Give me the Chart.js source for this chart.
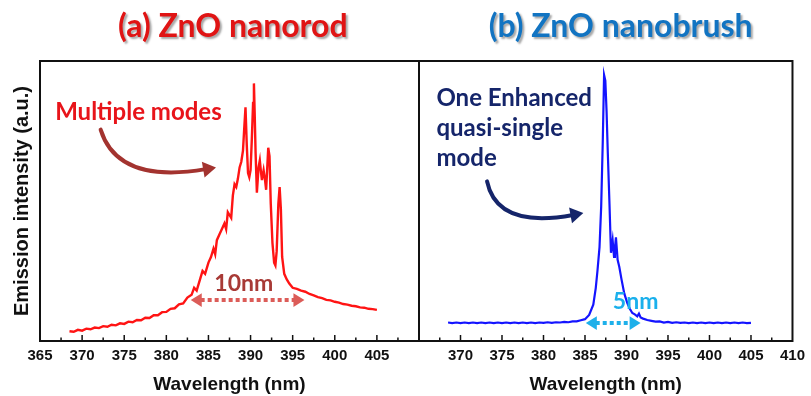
<!DOCTYPE html>
<html><head><meta charset="utf-8">
<script src="https://cdn.jsdelivr.net/npm/chart.js@4.4.0/dist/chart.umd.min.js"></script>
<style>
html,body{margin:0;padding:0;background:#fff;}
#wrap{position:relative;width:811px;height:396px;overflow:hidden;}
canvas{position:absolute;left:0;top:0;}
</style></head><body>
<div id="wrap"><canvas id="ca" width="811" height="396"></canvas><canvas id="cb" width="811" height="396"></canvas></div>
<script>
// ---------- data ----------
const wavelengthTicks = [365,370,375,380,385,390,395,400,405,410];

const redWavelength = [368.5,369.0,369.5,370.0,370.5,371.0,371.5,372.0,372.5,373.0,373.5,374.0,374.5,375.0,375.5,376.0,376.5,377.0,377.5,378.0,378.5,379.0,379.5,380.0,380.5,381.0,381.5,382.0,382.5,383.0,383.3,383.6,384.0,384.3,384.6,385.0,385.3,385.6,385.8,386.0,386.3,386.6,386.9,387.1,387.3,387.5,387.7,387.9,388.1,388.3,388.5,388.7,388.9,389.1,389.25,389.4,389.55,389.7,389.85,390.0,390.15,390.3,390.4,390.5,390.6,390.75,390.95,391.1,391.25,391.35,391.55,391.7,391.85,392.0,392.1,392.25,392.4,392.6,392.8,392.95,393.1,393.3,393.45,393.6,393.75,394.0,394.3,394.6,395.0,395.5,396.0,396.5,397.0,397.5,398.0,398.5,399.0,399.5,400.0,400.5,401.0,401.5,402.0,402.5,403.0,403.5,404.0,404.5,405.0];
const redIntensity = [0.035,0.033,0.040,0.037,0.044,0.042,0.048,0.046,0.053,0.051,0.058,0.056,0.063,0.061,0.069,0.067,0.075,0.074,0.083,0.082,0.092,0.092,0.103,0.104,0.115,0.117,0.131,0.134,0.155,0.165,0.19,0.18,0.22,0.25,0.24,0.28,0.30,0.33,0.31,0.36,0.38,0.40,0.42,0.40,0.46,0.45,0.44,0.52,0.56,0.55,0.58,0.62,0.64,0.68,0.76,0.835,0.70,0.60,0.585,0.61,0.72,0.85,0.92,0.80,0.67,0.53,0.62,0.645,0.60,0.575,0.61,0.58,0.54,0.63,0.69,0.66,0.49,0.35,0.28,0.27,0.32,0.49,0.55,0.47,0.30,0.24,0.22,0.205,0.19,0.186,0.180,0.176,0.168,0.163,0.157,0.153,0.147,0.145,0.140,0.137,0.132,0.130,0.126,0.124,0.120,0.119,0.115,0.114,0.111];

const blueWavelength = [368.5,369.0,369.5,370.0,370.5,371.0,371.5,372.0,372.5,373.0,373.5,374.0,374.5,375.0,375.5,376.0,376.5,377.0,377.5,378.0,378.5,379.0,379.5,380.0,380.5,381.0,381.5,382.0,382.5,383.0,383.5,384.0,384.5,385.0,385.5,386.0,386.3,386.5,386.75,386.95,387.14,387.3,387.45,387.6,387.75,387.95,388.13,388.33,388.5,388.6,388.73,388.93,389.13,389.4,389.73,390.1,390.4,390.7,391.0,391.3,391.5,391.7,392.0,392.5,393.0,393.5,394.0,394.5,395.0,395.5,396.0,396.5,397.0,397.5,398.0,398.5,399.0,399.5,400.0,400.5,401.0,401.5,402.0,402.5,403.0,403.5,404.0,404.5,405.0];
const blueIntensity = [0.066,0.064,0.066,0.064,0.066,0.064,0.066,0.064,0.066,0.064,0.066,0.064,0.066,0.064,0.066,0.064,0.066,0.064,0.066,0.064,0.066,0.064,0.066,0.065,0.067,0.065,0.067,0.066,0.068,0.067,0.070,0.070,0.074,0.078,0.093,0.13,0.19,0.25,0.335,0.48,0.71,0.95,0.93,0.82,0.67,0.49,0.315,0.36,0.30,0.33,0.37,0.29,0.265,0.22,0.17,0.135,0.115,0.10,0.095,0.088,0.098,0.084,0.080,0.075,0.072,0.069,0.070,0.066,0.068,0.065,0.067,0.065,0.066,0.064,0.066,0.064,0.066,0.064,0.066,0.064,0.066,0.064,0.066,0.064,0.066,0.064,0.066,0.064,0.065];

// ---------- annotations (data coordinates) ----------
const annA = {
  texts: [
    {t:'(a) ZnO nanorod', x:387.9, y:1.121, c:'#e01414', f:'bold 32px Lato', a:'center', shadow:true},
    {t:'Multiple modes', x:366.8, y:0.818, c:'#e8141a', f:'bold 24px Lato', a:'left'},
    {t:'10nm', x:389.2, y:0.205, c:'#a83a36', f:'bold 23px Lato', a:'center'}
  ],
  curves: [{pts:[[372.2,0.755],[374.2,0.56],[385.9,0.62]], c:'#a3332f', w:4, head:13}],
  dotted: [{x1:382.9, x2:396.4, y:0.146, c:'#dc5c58', w:4, head:11}]
};
const annB = {
  texts: [
    {t:'(b) ZnO nanobrush', x:389.3, y:1.121, c:'#1274c2', f:'bold 32px Lato', a:'center', shadow:true},
    {t:'One Enhanced', x:367.1, y:0.868, c:'#15256a', f:'bold 24px Lato', a:'left'},
    {t:'quasi-single', x:367.1, y:0.76, c:'#15256a', f:'bold 24px Lato', a:'left'},
    {t:'mode', x:367.1, y:0.654, c:'#15256a', f:'bold 24px Lato', a:'left'},
    {t:'5nm', x:391.1, y:0.14, c:'#1ab0ec', f:'bold 23px Lato', a:'center'}
  ],
  curves: [{pts:[[373.2,0.57],[374.4,0.40],[384.8,0.457]], c:'#15256a', w:4, head:13}],
  dotted: [{x1:385.1, x2:391.7, y:0.064, c:'#1eb0ea', w:4, head:11}]
};

// ---------- drawing helpers ----------
function head(ctx, x, y, ang, s, color){
  ctx.save(); ctx.translate(x,y); ctx.rotate(ang);
  ctx.beginPath(); ctx.moveTo(0,0); ctx.lineTo(-s,-s*0.62); ctx.lineTo(-s,s*0.62); ctx.closePath();
  ctx.fillStyle=color; ctx.fill(); ctx.restore();
}
const decor = {
  id:'decor',
  afterDraw(chart, args, o){
    const {ctx, chartArea:a, scales:{x,y}} = chart;
    const ann = o.ann;
    ctx.save();
    // inward ticks
    ctx.strokeStyle='#111'; ctx.lineWidth=1.5;
    for(let v=367.5; v<410; v+=2.5){
      const px=x.getPixelForValue(v); const len=(v%5===0)?6:3.5;
      ctx.beginPath(); ctx.moveTo(px,a.bottom); ctx.lineTo(px,a.bottom-len); ctx.stroke();
    }
    // frame
    ctx.lineWidth=2; ctx.strokeStyle='#111';
    ctx.strokeRect(a.left, a.top, a.right-a.left, a.bottom-a.top);
    // curved arrows
    ann.curves.forEach(c=>{
      const P=c.pts.map(p=>[x.getPixelForValue(p[0]), y.getPixelForValue(p[1])]);
      const ang=Math.atan2(P[2][1]-P[1][1], P[2][0]-P[1][0]);
      const ex=P[2][0]-Math.cos(ang)*c.head*0.8, ey=P[2][1]-Math.sin(ang)*c.head*0.8;
      ctx.strokeStyle=c.c; ctx.lineWidth=c.w; ctx.lineCap='round'; ctx.setLineDash([]);
      ctx.beginPath(); ctx.moveTo(P[0][0],P[0][1]); ctx.quadraticCurveTo(P[1][0],P[1][1],ex,ey); ctx.stroke();
      head(ctx,P[2][0],P[2][1],ang,c.head,c.c);
    });
    // dotted double arrows
    ann.dotted.forEach(d=>{
      const x1=x.getPixelForValue(d.x1), x2=x.getPixelForValue(d.x2), py=y.getPixelForValue(d.y);
      ctx.strokeStyle=d.c; ctx.lineWidth=d.w; ctx.lineCap='butt'; ctx.setLineDash([4,3]);
      ctx.beginPath(); ctx.moveTo(x1+d.head*0.9,py); ctx.lineTo(x2-d.head*0.9,py); ctx.stroke();
      ctx.setLineDash([]);
      head(ctx,x2,py,0,d.head,d.c); head(ctx,x1,py,Math.PI,d.head,d.c);
    });
    // texts
    ann.texts.forEach(t=>{
      ctx.save();
      ctx.font=t.f; ctx.fillStyle=t.c; ctx.textAlign=t.a; ctx.textBaseline='middle';
      if(t.shadow){ctx.shadowColor='rgba(0,0,0,0.35)'; ctx.shadowOffsetX=2; ctx.shadowOffsetY=2; ctx.shadowBlur=2;}
      ctx.fillText(t.t, x.getPixelForValue(t.x), y.getPixelForValue(t.y));
      ctx.restore();
    });
    ctx.restore();
  }
};

function xAxis(hide){
  return {
    type:'linear', min:365, max:410,
    grid:{display:false, drawTicks:false}, border:{display:false},
    afterBuildTicks(s){ s.ticks = wavelengthTicks.map(v=>({value:v})); },
    ticks:{autoSkip:false, maxRotation:0, padding:6, color:'#111',
      font:{family:'Liberation Sans', weight:'bold', size:15},
      callback:(v)=> v===hide ? '' : String(v)},
    title:{display:true, text:'Wavelength (nm)', color:'#111',
      font:{family:'Liberation Sans', weight:'bold', size:19}, padding:{top:0,bottom:0}},
    afterFit(s){ s.height=55; }
  };
}

const common = {responsive:false, animation:false, devicePixelRatio:1,
  plugins:{legend:{display:false}, tooltip:{enabled:false}}};

new Chart(document.getElementById('ca'), {
  type:'line',
  data:{datasets:[{data:redWavelength.map((w,i)=>({x:w,y:redIntensity[i]})),
    borderColor:'#ff1414', borderWidth:2.4, pointRadius:0, tension:0, fill:false}]},
  options:Object.assign({}, common, {
    layout:{padding:{left:0,right:392,top:61,bottom:0}},
    plugins:{legend:{display:false}, tooltip:{enabled:false}, decor:{ann:annA}},
    scales:{
      x:xAxis(410),
      y:{min:0,max:1, grid:{display:false, drawTicks:false}, border:{display:false},
        ticks:{display:false},
        title:{display:true, text:'Emission intensity (a.u.)', color:'#111',
          font:{family:'Liberation Sans', weight:'bold', size:20}, padding:{top:10,bottom:0}},
        afterFit(s){ s.width=40; }}
    }
  }),
  plugins:[decor]
});

new Chart(document.getElementById('cb'), {
  type:'line',
  data:{datasets:[{data:blueWavelength.map((w,i)=>({x:w,y:blueIntensity[i]})),
    borderColor:'#1414ff', borderWidth:2.2, pointRadius:0, tension:0, fill:false}]},
  options:Object.assign({}, common, {
    layout:{padding:{left:419,right:13,top:61,bottom:0}},
    plugins:{legend:{display:false}, tooltip:{enabled:false}, decor:{ann:annB}},
    scales:{
      x:xAxis(365),
      y:{display:false, min:0, max:1}
    }
  }),
  plugins:[decor]
});
</script>
</body></html>
